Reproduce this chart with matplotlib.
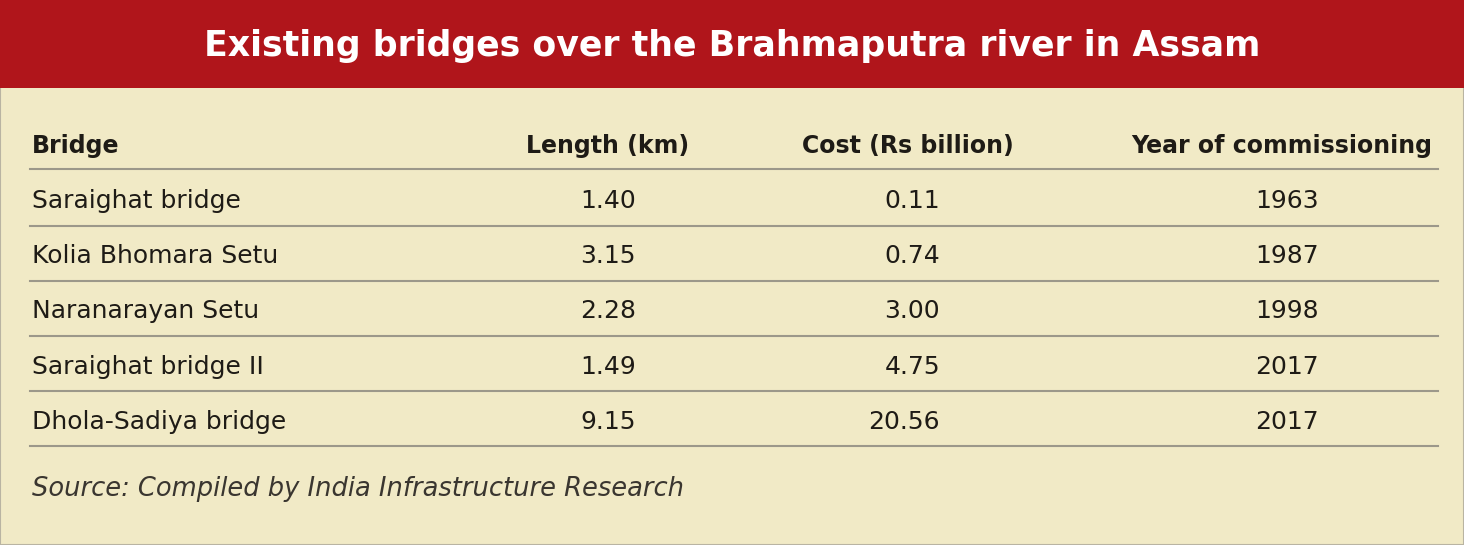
import matplotlib
matplotlib.use("Agg")
import matplotlib.pyplot as plt
from matplotlib.patches import Rectangle

W, H = 1464, 545

TITLE = "Existing bridges over the Brahmaputra river in Assam"
COLUMNS = ["Bridge", "Length (km)", "Cost (Rs billion)", "Year of commissioning"]
bridges = ["Saraighat bridge", "Kolia Bhomara Setu", "Naranarayan Setu",
           "Saraighat bridge II", "Dhola-Sadiya bridge"]
lengths = ["1.40", "3.15", "2.28", "1.49", "9.15"]
costs = ["0.11", "0.74", "3.00", "4.75", "20.56"]
years = ["1963", "1987", "1998", "2017", "2017"]
SOURCE = "Source: Compiled by India Infrastructure Research"

RED = "#B0151B"
CREAM = "#F1EAC6"
INK = "#1E1B16"
RULE = "#9C988A"
NARROW = ["Liberation Sans Narrow", "DejaVu Sans"]

fig = plt.figure(figsize=(W / 100, H / 100), dpi=100)
ax = fig.add_axes([0, 0, 1, 1])
ax.set_xlim(0, W)
ax.set_ylim(H, 0)
ax.axis("off")

ax.add_patch(Rectangle((0, 0), W, H, facecolor=CREAM, edgecolor="#B9B4A2", lw=1.5))
ax.add_patch(Rectangle((0, 0), W, 88, facecolor=RED, edgecolor="none"))
ax.text(W / 2, 46, TITLE, color="white", fontsize=25, fontweight="bold",
        family=NARROW, ha="center", va="center")

# header
hy = 146
ax.text(32, hy, COLUMNS[0], fontsize=17, fontweight="bold", family=NARROW, color=INK, va="center")
ax.text(608, hy, COLUMNS[1], fontsize=17, fontweight="bold", family=NARROW, color=INK, va="center", ha="center")
ax.text(908, hy, COLUMNS[2], fontsize=17, fontweight="bold", family=NARROW, color=INK, va="center", ha="center")
ax.text(1432, hy, COLUMNS[3], fontsize=17, fontweight="bold", family=NARROW, color=INK, va="center", ha="right")
ax.plot([30, 1438], [169, 169], color=RULE, lw=1.5)

row_h = 55.2
for i, (b, l, c, y) in enumerate(zip(bridges, lengths, costs, years)):
    cy = 201 + i * row_h
    ax.text(32, cy, b, fontsize=18, color=INK, va="center")
    ax.text(608, cy, l, fontsize=18, color=INK, va="center", ha="center")
    ax.text(940, cy, c, fontsize=18, color=INK, va="center", ha="right")
    ax.text(1287, cy, y, fontsize=18, color=INK, va="center", ha="center")
    ax.plot([30, 1438], [cy + 24.5, cy + 24.5], color=RULE, lw=1.5)

ax.text(32, 489, SOURCE, fontsize=18.5, style="italic", color="#3A3630", va="center")

fig.savefig("out.png", dpi=100)
